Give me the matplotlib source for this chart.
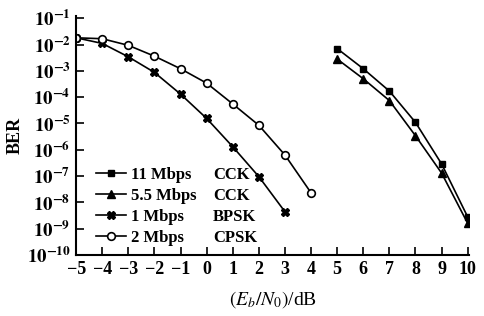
import matplotlib
matplotlib.use("Agg")
import matplotlib.pyplot as plt

# Eb/N0 (dB) and BER
x_bpsk = [-5, -4, -3, -2, -1, 0, 1, 2, 3]
ber_bpsk = [1.8e-2, 1.1e-2, 3.4e-3, 8.7e-4, 1.3e-4, 1.55e-5, 1.3e-6, 9.5e-8, 4.4e-9]

x_cpsk = [-5, -4, -3, -2, -1, 0, 1, 2, 3, 4]
ber_cpsk = [1.8e-2, 1.66e-2, 9.3e-3, 3.6e-3, 1.2e-3, 3.4e-4, 5.5e-5, 8.5e-6, 6.3e-7, 2.3e-8]

x_cck = [5, 6, 7, 8, 9, 10]
ber_cck11 = [7e-3, 1.2e-3, 1.7e-4, 1.1e-5, 2.9e-7, 2.8e-9]
ber_cck55 = [2.8e-3, 5e-4, 7.4e-5, 3.4e-6, 1.3e-7, 1.6e-9]

rates = ["11 Mbps", "5.5 Mbps", "1 Mbps", "2 Mbps"]
mods = ["CCK", "CCK", "BPSK", "CPSK"]

xticks = list(range(-5, 11))
yticks = [10.0 ** -k for k in range(1, 11)]

plt.rcParams['font.family'] = ['Liberation Serif', 'DejaVu Serif']
plt.rcParams['mathtext.fontset'] = 'stix'

fig = plt.figure(figsize=(4.85, 3.16), dpi=100)
ax = fig.add_axes([0.157, 0.193, 0.810, 0.756])

h1, = ax.plot(x_cck, ber_cck11, 'k-', marker='s', ms=5, lw=1.2)
h2, = ax.plot(x_cck, ber_cck55, 'k-', marker='^', ms=6, lw=1.2)
h3, = ax.plot(x_bpsk, ber_bpsk, 'k-', marker='X', ms=6, lw=1.2)
h4, = ax.plot(x_cpsk, ber_cpsk, 'k-', marker='o', ms=5.5, mfc='white', mew=1.2, lw=1.2)

ax.set_yscale('log')
ax.set_xlim(-5, 10.05)
ax.set_ylim(1e-10, 1.2e-1)
ax.set_xticks(xticks)
ax.set_xticklabels([str(v).replace('-', '\u2212') for v in xticks], fontsize=13, fontweight='bold')
ax.set_yticks(yticks)
ax.set_yticklabels([r'$\mathbf{10^{-%d}}$' % k for k in range(1, 11)], fontsize=13.5)
ax.minorticks_off()
ax.tick_params(direction='in', length=6, width=1.2, pad=4)
ax.spines['top'].set_visible(False)
ax.spines['right'].set_visible(False)
ax.spines['left'].set_linewidth(1.5)
ax.spines['bottom'].set_linewidth(1.5)

ax.set_ylabel('BER', fontsize=13, fontweight='bold', labelpad=2)
ax.set_xlabel('$(E_b/N_0)$/dB', fontsize=14, labelpad=8)

leg = ax.legend([h1, h2, h3, h4], rates, loc='lower left', bbox_to_anchor=(0.02, -0.01),
                frameon=False, handlelength=1.8, handletextpad=0.3, labelspacing=0.3,
                prop={'size': 12, 'weight': 'bold'}, borderpad=0.2)

# second legend column: modulation names, aligned with the legend rows
fig.canvas.draw()
inv = ax.transAxes.inverted()
for t, m in zip(leg.get_texts(), mods):
    bb = t.get_window_extent()
    yc = inv.transform((0, (bb.y0 + bb.y1) / 2))[1]
    ax.text(0.349, yc, m, transform=ax.transAxes, fontsize=12,
            fontweight='bold', va='center', ha='left')

fig.savefig('out.png', dpi=100)
